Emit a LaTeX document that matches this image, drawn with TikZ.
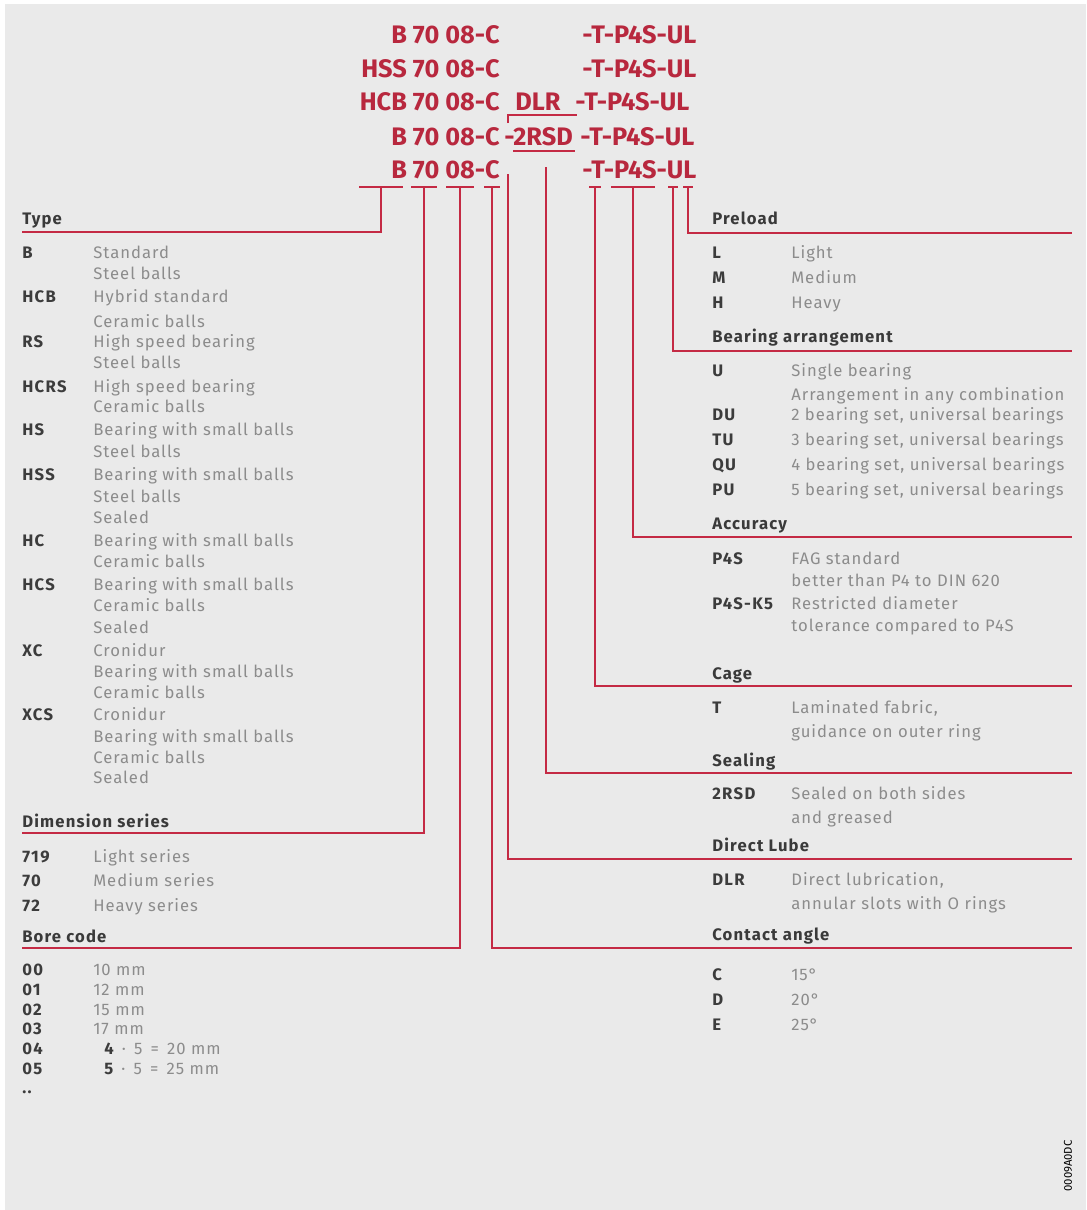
\documentclass[tikz,border=0pt]{standalone}
\usepackage{fontspec}
\setmainfont{Fira Sans}
\newfontfamily\descfam[LetterSpace=6]{Fira Sans}
\newfontfamily\keyfam[LetterSpace=8]{Fira Sans}
\newfontfamily\hdfam[LetterSpace=7]{Fira Sans}
\usetikzlibrary{calc}
\definecolor{bgc}{HTML}{EAEAEA}
\definecolor{fagred}{HTML}{C42A44}
\definecolor{codered}{HTML}{B8283E}
\definecolor{hdgray}{HTML}{3A3A3A}
\definecolor{keygray}{HTML}{3C3C3C}
\definecolor{descgray}{HTML}{8C8C8C}
\newcommand{\bodyfont}{\fontsize{12.5}{14}\selectfont}
\begin{document}
\begin{tikzpicture}[x=0.75pt,y=-0.75pt,
  ln/.style={draw=fagred, line width=1.8pt},
  bar/.style={fill=fagred, inner sep=0pt, minimum height=2.2pt},
  codetop/.style={inner sep=0pt, text=codered, font=\fontsize{19}{20}\selectfont\bfseries},
  hd/.style={anchor=base west, inner sep=0pt, text=hdgray, font=\hdfam\bodyfont\bfseries},
  key/.style={anchor=base west, inner sep=0pt, text=keygray, font=\keyfam\bodyfont\bfseries},
  desc/.style={anchor=base west, inner sep=0pt, text=descgray, font=\descfam\bodyfont},
  tag/.style={inner sep=0pt, text=black, font=\fontsize{8.5}{9}\selectfont, rotate=90}]
\useasboundingbox (0,0) rectangle (1086,1210);
\fill[white] (0,0) rectangle (1086,1210);
\fill[bgc] (5,4) rectangle (1086,1210);

% ---------- top designation codes ----------
\node[codetop, anchor=base east] (r1a) at (500,43) {B 70 08-C};
\node[codetop, anchor=base west] (r1b) at (582,43) {-T-P4S-UL};
\node[codetop, anchor=base east] (r2a) at (500,77) {HSS 70 08-C};
\node[codetop, anchor=base west] (r2b) at (582,77) {-T-P4S-UL};
\node[codetop, anchor=base east] (r3a) at (500,110) {HCB 70 08-C};
\node[codetop, anchor=base west] (r3d) at (515,110) {DLR};
\node[codetop, anchor=base west] (r3b) at (575,110) {-T-P4S-UL};
\node[codetop, anchor=base east] (r4a) at (500,145) {B 70 08-C};
\node[codetop, anchor=base west] (r4m) at (504,145) {-};
\node[codetop, anchor=base west] (r4s) at (513,145) {2RSD};
\node[codetop, anchor=base west] (r4b) at (580,145) {-T-P4S-UL};
\node[codetop, anchor=base east] (r5a) at (500,178) {B 70 08-C};
\node[codetop, anchor=base west] (r5b) at (582,178) {-T-P4S-UL};

% bracket over 2RSD and underline
\coordinate (brA) at (508,123);
\coordinate (brB) at (508,115);
\coordinate (brC) at (577,115);
\draw[draw=fagred, line width=1.4pt] (brA) -- (brB) -- (brC);
\coordinate (ulA) at (513,151);
\coordinate (ulB) at (575,151);
\draw[draw=fagred, line width=2.2pt] (ulA) -- (ulB);

% ---------- tick bars ----------
\node[bar, minimum width=33pt] (bType) at (381,187) {};
\node[bar, minimum width=20pt] (bDim) at (424,187) {};
\node[bar, minimum width=21pt] (bBore) at (460,187) {};
\node[bar, minimum width=12pt] (bCon) at (492,187) {};
\node[bar, minimum width=9pt] (bCage) at (595,187) {};
\node[bar, minimum width=33pt] (bAcc) at (633,187) {};
\node[bar, minimum width=8pt] (bArr) at (673,187) {};
\node[bar, minimum width=7pt] (bPre) at (688,187) {};
\coordinate (tDLR) at (508,174);
\coordinate (tRSD) at (546,167);

% ---------- line ends ----------
\coordinate (eType) at (22,232);
\coordinate (eDim) at (22,833);
\coordinate (eBore) at (22,948);
\coordinate (eCon) at (1072,948);
\coordinate (eDLR) at (1072,859);
\coordinate (eSeal) at (1072,773);
\coordinate (eCage) at (1072,686);
\coordinate (eAcc) at (1072,537);
\coordinate (eArr) at (1072,351);
\coordinate (ePre) at (1072,233);

\draw[ln] (bType.center) |- (eType);
\draw[ln] (bDim.center) |- (eDim);
\draw[ln] (bBore.center) |- (eBore);
\draw[ln] (bCon.center) |- (eCon);
\draw[ln] (tDLR) |- (eDLR);
\draw[ln] (tRSD) |- (eSeal);
\draw[ln] (bCage.center) |- (eCage);
\draw[ln] (bAcc.center) |- (eAcc);
\draw[ln] (bArr.center) |- (eArr);
\draw[ln] (bPre.center) |- (ePre);

% ---------- left column ----------
\node[hd] (hType) at (22,224) {Type};
\node[key] (kB) at (22,258) {B};      \node[desc] (dB1) at (93,258) {Standard};
\node[desc] (dB2) at (93,279) {Steel balls};
\node[key] (kHCB) at (22,302) {HCB};  \node[desc] (dHCB1) at (93,302) {Hybrid standard};
\node[desc] (dHCB2) at (93,327) {Ceramic balls};
\node[key] (kRS) at (22,347) {RS};    \node[desc] (dRS1) at (93,347) {High speed bearing};
\node[desc] (dRS2) at (93,368) {Steel balls};
\node[key] (kHCRS) at (22,392) {HCRS};\node[desc] (dHCRS1) at (93,392) {High speed bearing};
\node[desc] (dHCRS2) at (93,412) {Ceramic balls};
\node[key] (kHS) at (22,435) {HS};    \node[desc] (dHS1) at (93,435) {Bearing with small balls};
\node[desc] (dHS2) at (93,457) {Steel balls};
\node[key] (kHSS) at (22,480) {HSS};  \node[desc] (dHSS1) at (93,480) {Bearing with small balls};
\node[desc] (dHSS2) at (93,502) {Steel balls};
\node[desc] (dHSS3) at (93,523) {Sealed};
\node[key] (kHC) at (22,546) {HC};    \node[desc] (dHC1) at (93,546) {Bearing with small balls};
\node[desc] (dHC2) at (93,567) {Ceramic balls};
\node[key] (kHCS) at (22,590) {HCS};  \node[desc] (dHCS1) at (93,590) {Bearing with small balls};
\node[desc] (dHCS2) at (93,611) {Ceramic balls};
\node[desc] (dHCS3) at (93,633) {Sealed};
\node[key] (kXC) at (22,656) {XC};    \node[desc] (dXC1) at (93,656) {Cronidur};
\node[desc] (dXC2) at (93,677) {Bearing with small balls};
\node[desc] (dXC3) at (93,698) {Ceramic balls};
\node[key] (kXCS) at (22,720) {XCS};  \node[desc] (dXCS1) at (93,720) {Cronidur};
\node[desc] (dXCS2) at (93,742) {Bearing with small balls};
\node[desc] (dXCS3) at (93,763) {Ceramic balls};
\node[desc] (dXCS4) at (93,783) {Sealed};

\node[hd] (hDim) at (22,827) {Dimension series};
\node[key] (k719) at (22,862) {719};  \node[desc] (d719) at (93,862) {Light series};
\node[key] (k70) at (22,886) {70};    \node[desc] (d70) at (93,886) {Medium series};
\node[key] (k72) at (22,911) {72};    \node[desc] (d72) at (93,911) {Heavy series};

\node[hd] (hBore) at (22,942) {Bore code};
\node[key] (k00) at (22,975) {00};    \node[desc] (d00) at (93,975) {10 mm};
\node[key] (k01) at (22,995) {01};    \node[desc] (d01) at (93,995) {12 mm};
\node[key] (k02) at (22,1015) {02};   \node[desc] (d02) at (93,1015) {15 mm};
\node[key] (k03) at (22,1034) {03};   \node[desc] (d03) at (93,1034) {17 mm};
\node[key] (k04) at (22,1054) {04};   \node[desc] (d04) at (104,1054) {\textcolor{keygray}{\keyfam\bfseries 4}\, ·\, 5\, =\, 20 mm};
\node[key] (k05) at (22,1074) {05};   \node[desc] (d05) at (104,1074) {\textcolor{keygray}{\keyfam\bfseries 5}\, ·\, 5\, =\, 25 mm};
\node[key] (kdots) at (22,1093) {..};

% ---------- right column ----------
\node[hd] (hPre) at (712,224) {Preload};
\node[key] (kL) at (712,258) {L};     \node[desc] (dL) at (791,258) {Light};
\node[key] (kM) at (712,283) {M};     \node[desc] (dM) at (791,283) {Medium};
\node[key] (kH) at (712,308) {H};     \node[desc] (dH) at (791,308) {Heavy};

\node[hd] (hArr) at (712,342) {Bearing arrangement};
\node[key] (kU) at (712,376) {U};     \node[desc] (dU1) at (791,376) {Single bearing};
\node[desc] (dU2) at (791,400) {Arrangement in any combination};
\node[key] (kDU) at (712,420) {DU};   \node[desc] (dDU) at (791,420) {2 bearing set, universal bearings};
\node[key] (kTU) at (712,445) {TU};   \node[desc] (dTU) at (791,445) {3 bearing set, universal bearings};
\node[key] (kQU) at (712,470) {QU};   \node[desc] (dQU) at (791,470) {4 bearing set, universal bearings};
\node[key] (kPU) at (712,495) {PU};   \node[desc] (dPU) at (791,495) {5 bearing set, universal bearings};

\node[hd] (hAcc) at (712,529) {Accuracy};
\node[key] (kP4S) at (712,564) {P4S}; \node[desc] (dP4S1) at (791,564) {FAG standard};
\node[desc] (dP4S2) at (791,586) {better than P4 to DIN 620};
\node[key] (kK5) at (712,609) {P4S-K5}; \node[desc] (dK51) at (791,609) {Restricted diameter};
\node[desc] (dK52) at (791,631) {tolerance compared to P4S};

\node[hd] (hCage) at (712,679) {Cage};
\node[key] (kT) at (712,713) {T};     \node[desc] (dT1) at (791,713) {Laminated fabric,};
\node[desc] (dT2) at (791,737) {guidance on outer ring};

\node[hd] (hSeal) at (712,766) {Sealing};
\node[key] (kRSD) at (712,799) {2RSD}; \node[desc] (dRSD1) at (791,799) {Sealed on both sides};
\node[desc] (dRSD2) at (791,823) {and greased};

\node[hd] (hDLR) at (712,851) {Direct Lube};
\node[key] (kDLR) at (712,885) {DLR}; \node[desc] (dDLR1) at (791,885) {Direct lubrication,};
\node[desc] (dDLR2) at (791,909) {annular slots with O rings};

\node[hd] (hCon) at (712,940) {Contact angle};
\node[key] (kC) at (712,980) {C};     \node[desc] (dC) at (791,980) {15°};
\node[key] (kD) at (712,1005) {D};    \node[desc] (dD) at (791,1005) {20°};
\node[key] (kE) at (712,1030) {E};    \node[desc] (dE) at (791,1030) {25°};

\node[tag] (tag) at (1068,1166) {0009A0DC};
\end{tikzpicture}
\end{document}
